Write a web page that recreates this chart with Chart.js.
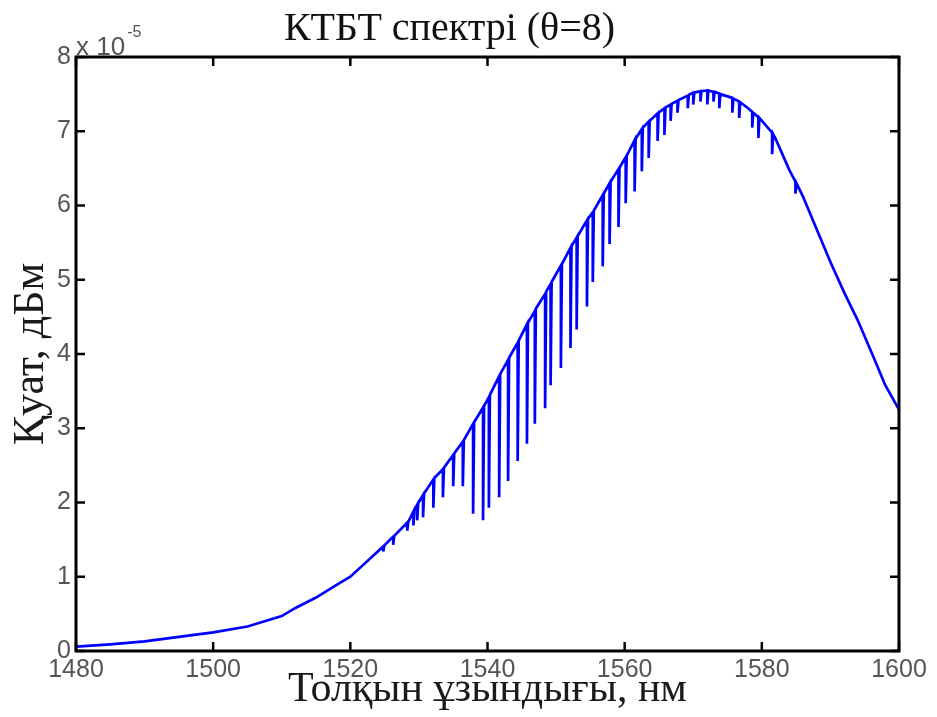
<!DOCTYPE html>
<html><head><meta charset="utf-8">
<script src="https://cdn.jsdelivr.net/npm/chart.js@4"></script>
<style>html,body{margin:0;padding:0;background:#fff;}canvas{display:block}</style>
</head><body>
<canvas id="c" width="937" height="717"></canvas>
<script>
// Spectrum readings (nm, ×10^-5). Notches appear as (x, top), (x, bottom), (x+0.15, top)
const wavelength = [
  1480.0, 1485.0, 1490.0, 1495.0, 1500.0, 1505.0, 1510.0, 1512.0, 1515.0, 1518.0, 1520.0, 1522.0, 1524.0,
  1524.8, 1524.8, 1524.95, 1526.0, 1526.25, 1526.25, 1526.4, 1528.0,
  1528.3, 1528.3, 1528.45, 1529.2, 1529.2, 1529.35, 1529.75, 1529.75, 1529.9, 1530.6, 1530.6, 1530.75,
  1532.1, 1532.1, 1532.25, 1533.5, 1533.5, 1533.65, 1535.0, 1535.0, 1535.15, 1536.4, 1536.4, 1536.55,
  1537.9, 1537.9, 1538.05, 1539.35, 1539.35, 1539.5, 1540.2, 1540.2, 1540.35, 1541.7, 1541.7, 1541.85,
  1543.0, 1543.0, 1543.15, 1544.4, 1544.4, 1544.55, 1545.75, 1545.75, 1545.9, 1546.9, 1546.9, 1547.05,
  1548.4, 1548.4, 1548.55, 1549.2, 1549.2, 1549.35, 1550.7, 1550.7, 1550.85, 1552.1, 1552.1, 1552.25,
  1553.0, 1553.0, 1553.15, 1554.5, 1554.5, 1554.65, 1555.35, 1555.35, 1555.5, 1556.8, 1556.8, 1556.95,
  1557.8, 1557.8, 1557.95, 1559.1, 1559.1, 1559.25, 1560.15, 1560.15, 1560.3, 1561.45, 1561.45, 1561.6,
  1562.5, 1562.5, 1562.65, 1563.5, 1563.5, 1563.65, 1564.8, 1564.8, 1564.95, 1565.8, 1565.8, 1565.95,
  1566.7, 1566.7, 1566.85, 1567.7, 1567.7, 1567.85, 1569.2, 1569.2, 1569.35, 1570.0, 1570.0, 1570.15,
  1571.05, 1571.05, 1571.2, 1572.05, 1572.05, 1572.2, 1572.95, 1572.95, 1573.1, 1573.8, 1573.8, 1573.95,
  1575.7, 1575.7, 1575.85, 1576.7, 1576.7, 1576.85, 1578.0, 1578.6, 1578.6, 1578.75, 1579.5, 1579.5, 1579.65,
  1581.5, 1581.5, 1581.65, 1582.0, 1584.0, 1584.9, 1584.9, 1585.05, 1586.0, 1588.0, 1590.0, 1592.0,
  1594.0, 1596.0, 1598.0, 1600.0
];
const power = [
  0.06, 0.09, 0.13, 0.19, 0.25, 0.33, 0.47, 0.58, 0.72, 0.89, 1.00, 1.17, 1.34,
  1.41, 1.34, 1.42, 1.52, 1.54, 1.43, 1.55, 1.70,
  1.73, 1.62, 1.74, 1.88, 1.69, 1.90, 1.97, 1.76, 1.99, 2.10, 1.80, 2.12,
  2.31, 1.93, 2.33, 2.45, 2.07, 2.47, 2.64, 2.22, 2.66, 2.82, 2.22, 2.84,
  3.06, 1.85, 3.08, 3.28, 1.76, 3.30, 3.42, 1.93, 3.45, 3.70, 2.07, 3.73,
  3.92, 2.29, 3.95, 4.15, 2.56, 4.18, 4.40, 2.79, 4.42, 4.58, 3.06, 4.61,
  4.81, 3.27, 4.84, 4.94, 3.58, 4.97, 5.19, 3.81, 5.21, 5.43, 4.08, 5.45,
  5.57, 4.33, 5.59, 5.80, 4.64, 5.82, 5.91, 4.97, 5.93, 6.14, 5.18, 6.16,
  6.30, 5.48, 6.32, 6.49, 5.71, 6.51, 6.65, 6.03, 6.67, 6.88, 6.19, 6.90,
  7.03, 6.46, 7.05, 7.13, 6.64, 7.14, 7.24, 6.87, 7.25, 7.31, 6.95, 7.32,
  7.36, 7.14, 7.37, 7.41, 7.25, 7.42, 7.48, 7.31, 7.49, 7.52, 7.36, 7.52,
  7.54, 7.40, 7.54, 7.55, 7.36, 7.55, 7.53, 7.40, 7.53, 7.51, 7.31, 7.50,
  7.45, 7.25, 7.44, 7.40, 7.18, 7.39, 7.31, 7.26, 7.05, 7.25, 7.19, 6.91, 7.18,
  6.98, 6.69, 6.96, 6.90, 6.48, 6.32, 6.16, 6.30, 6.12, 5.68, 5.24, 4.83,
  4.45, 4.02, 3.58, 3.25
];
const xTicks = [1480, 1500, 1520, 1540, 1560, 1580, 1600];
const yTicks = [0, 1, 2, 3, 4, 5, 6, 7, 8];
const chartTitle = 'КТБТ спектрі (θ=8)';
const xTitle = 'Толқын ұзындығы, нм';
const yTitle = 'Қуат, дБм';
const exponentBase = 'x 10';
const exponentPower = '-5';

const points = wavelength.map((w, i) => ({x: w, y: power[i]}));

const boxPlugin = {
  id: 'box',
  afterDraw(chart) {
    const ctx = chart.ctx, a = chart.chartArea;
    const xs = chart.scales.x, ys = chart.scales.y;
    ctx.save();
    ctx.strokeStyle = '#000';
    ctx.lineWidth = 3;
    ctx.strokeRect(a.left, a.top, a.right - a.left, a.bottom - a.top);
    ctx.lineWidth = 2.5;
    const L = 9;
    ctx.beginPath();
    xTicks.forEach(v => {
      const p = xs.getPixelForValue(v);
      ctx.moveTo(p, a.bottom); ctx.lineTo(p, a.bottom - L);
      ctx.moveTo(p, a.top); ctx.lineTo(p, a.top + L);
    });
    yTicks.forEach(v => {
      const p = ys.getPixelForValue(v);
      ctx.moveTo(a.left, p); ctx.lineTo(a.left + L, p);
      ctx.moveTo(a.right, p); ctx.lineTo(a.right - L, p);
    });
    ctx.stroke();
    ctx.fillStyle = '#555';
    ctx.textBaseline = 'alphabetic';
    ctx.textAlign = 'left';
    ctx.font = '26px "Liberation Sans", Arial, sans-serif';
    ctx.fillText(exponentBase, a.left + 0, a.top - 2);
    const w = ctx.measureText(exponentBase).width;
    ctx.font = '16px "Liberation Sans", Arial, sans-serif';
    ctx.fillText(exponentPower, a.left + 2 + w, a.top - 20);
    ctx.restore();
  }
};

new Chart(document.getElementById('c'), {
  type: 'line',
  data: {
    datasets: [{
      data: points,
      borderColor: '#0000ff',
      borderWidth: 2.7,
      pointRadius: 0,
      tension: 0,
      fill: false
    }]
  },
  options: {
    responsive: false,
    animation: false,
    devicePixelRatio: 1,
    layout: {padding: {left: 0, right: 38, top: 0, bottom: 0}},
    plugins: {
      legend: {display: false},
      tooltip: {enabled: false},
      title: {
        display: true,
        text: chartTitle,
        color: '#111',
        font: {family: '"Liberation Serif", "Times New Roman", serif', size: 40, weight: 'normal', lineHeight: 1.2},
        padding: {top: 5, bottom: 4}
      }
    },
    scales: {
      x: {
        type: 'linear',
        min: 1480, max: 1600,
        afterBuildTicks: s => { s.ticks = xTicks.map(v => ({value: v})); },
        afterFit: s => { s.height = 66; },
        grid: {display: false, drawTicks: false},
        border: {display: false},
        ticks: {
          padding: 4,
          color: '#555',
          maxRotation: 0,
          font: {family: '"Liberation Sans", Arial, sans-serif', size: 25},
          callback: v => String(v)
        },
        title: {
          display: true,
          text: xTitle,
          color: '#1a1a1a',
          font: {family: '"Liberation Serif", "Times New Roman", serif', size: 42, lineHeight: 1.2},
          padding: {top: 0, bottom: 2}
        }
      },
      y: {
        min: 0, max: 8,
        afterBuildTicks: s => { s.ticks = yTicks.map(v => ({value: v})); },
        afterFit: s => { s.width = 76; },
        grid: {display: false, drawTicks: false},
        border: {display: false},
        ticks: {
          padding: 5,
          color: '#555',
          font: {family: '"Liberation Sans", Arial, sans-serif', size: 25},
          callback: v => String(v)
        },
        title: {
          display: true,
          text: yTitle,
          color: '#1a1a1a',
          font: {family: '"Liberation Serif", "Times New Roman", serif', size: 44, lineHeight: 1.2},
          padding: {top: 5, bottom: 0}
        }
      }
    }
  },
  plugins: [boxPlugin]
});
</script>
</body></html>
